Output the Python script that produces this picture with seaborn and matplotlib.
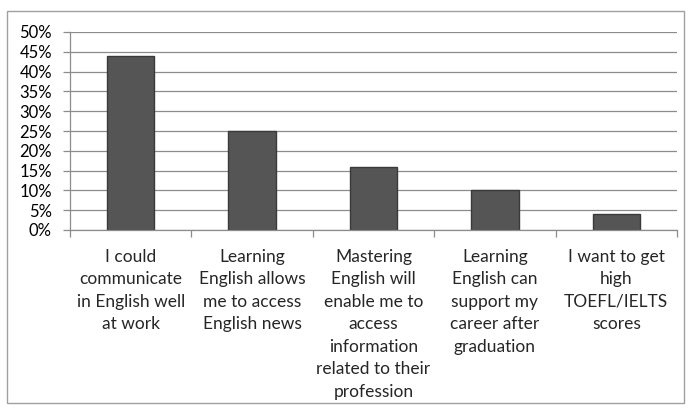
import matplotlib
matplotlib.use("Agg")
import matplotlib.pyplot as plt
import seaborn as sns
import pandas as pd
from matplotlib.patches import Rectangle
from matplotlib.ticker import FuncFormatter, MultipleLocator

categories = [
    "I could\ncommunicate\nin English well\nat work",
    "Learning\nEnglish allows\nme to access\nEnglish news",
    "Mastering\nEnglish will\nenable me to\naccess\ninformation\nrelated to their\nprofession",
    "Learning\nEnglish can\nsupport my\ncareer after\ngraduation",
    "I want to get\nhigh\nTOEFL/IELTS\nscores",
]
values = [0.44, 0.25, 0.16, 0.10, 0.04]

sns.set_style("white")
plt.rcParams["font.family"] = ["Lato", "DejaVu Sans"]

df = pd.DataFrame({"cat": categories, "val": values})

fig = plt.figure(figsize=(6.89, 4.08), dpi=100)
fig.patches.append(Rectangle((7 / 689, 5 / 408), 677 / 689, 392 / 408,
                             transform=fig.transFigure, fill=False,
                             edgecolor="#a0a0a0", linewidth=1.0))
ax = fig.add_axes([70 / 689, 1 - 230 / 408, 607 / 689, 198 / 408])

sns.barplot(data=df, x="cat", y="val", ax=ax, color="#555555",
            edgecolor="#3a3a3a", linewidth=1.0, width=0.39, saturation=1)

ax.set_ylim(0, 0.5)
ax.set_xlim(-0.5, 4.5)
ax.yaxis.set_major_locator(MultipleLocator(0.05))
ax.yaxis.set_major_formatter(FuncFormatter(lambda v, p: f"{v*100:.0f}%"))
ax.grid(axis="y", color="#8c8c8c", linewidth=0.9)
ax.set_axisbelow(True)
for s in ["top", "right"]:
    ax.spines[s].set_visible(False)
for s in ["left", "bottom"]:
    ax.spines[s].set_color("#8c8c8c")
    ax.spines[s].set_linewidth(0.9)

ax.set_xlabel("")
ax.set_ylabel("")
ax.tick_params(axis="y", labelsize=12, colors="#8c8c8c", labelcolor="black",
               length=5, width=0.9, direction="out", left=True, pad=8)
ax.tick_params(axis="x", labelsize=12.5, bottom=False, pad=10)
for lab in ax.get_xticklabels():
    lab.set_linespacing(1.5)
    lab.set_ha("center")

# minor ticks at category boundaries on x axis
ax.set_xticks([-0.5, 0.5, 1.5, 2.5, 3.5, 4.5], minor=True)
ax.tick_params(axis="x", which="minor", bottom=True, length=5, width=0.9,
               colors="#8c8c8c", direction="out")

fig.savefig("out.png", dpi=100)
